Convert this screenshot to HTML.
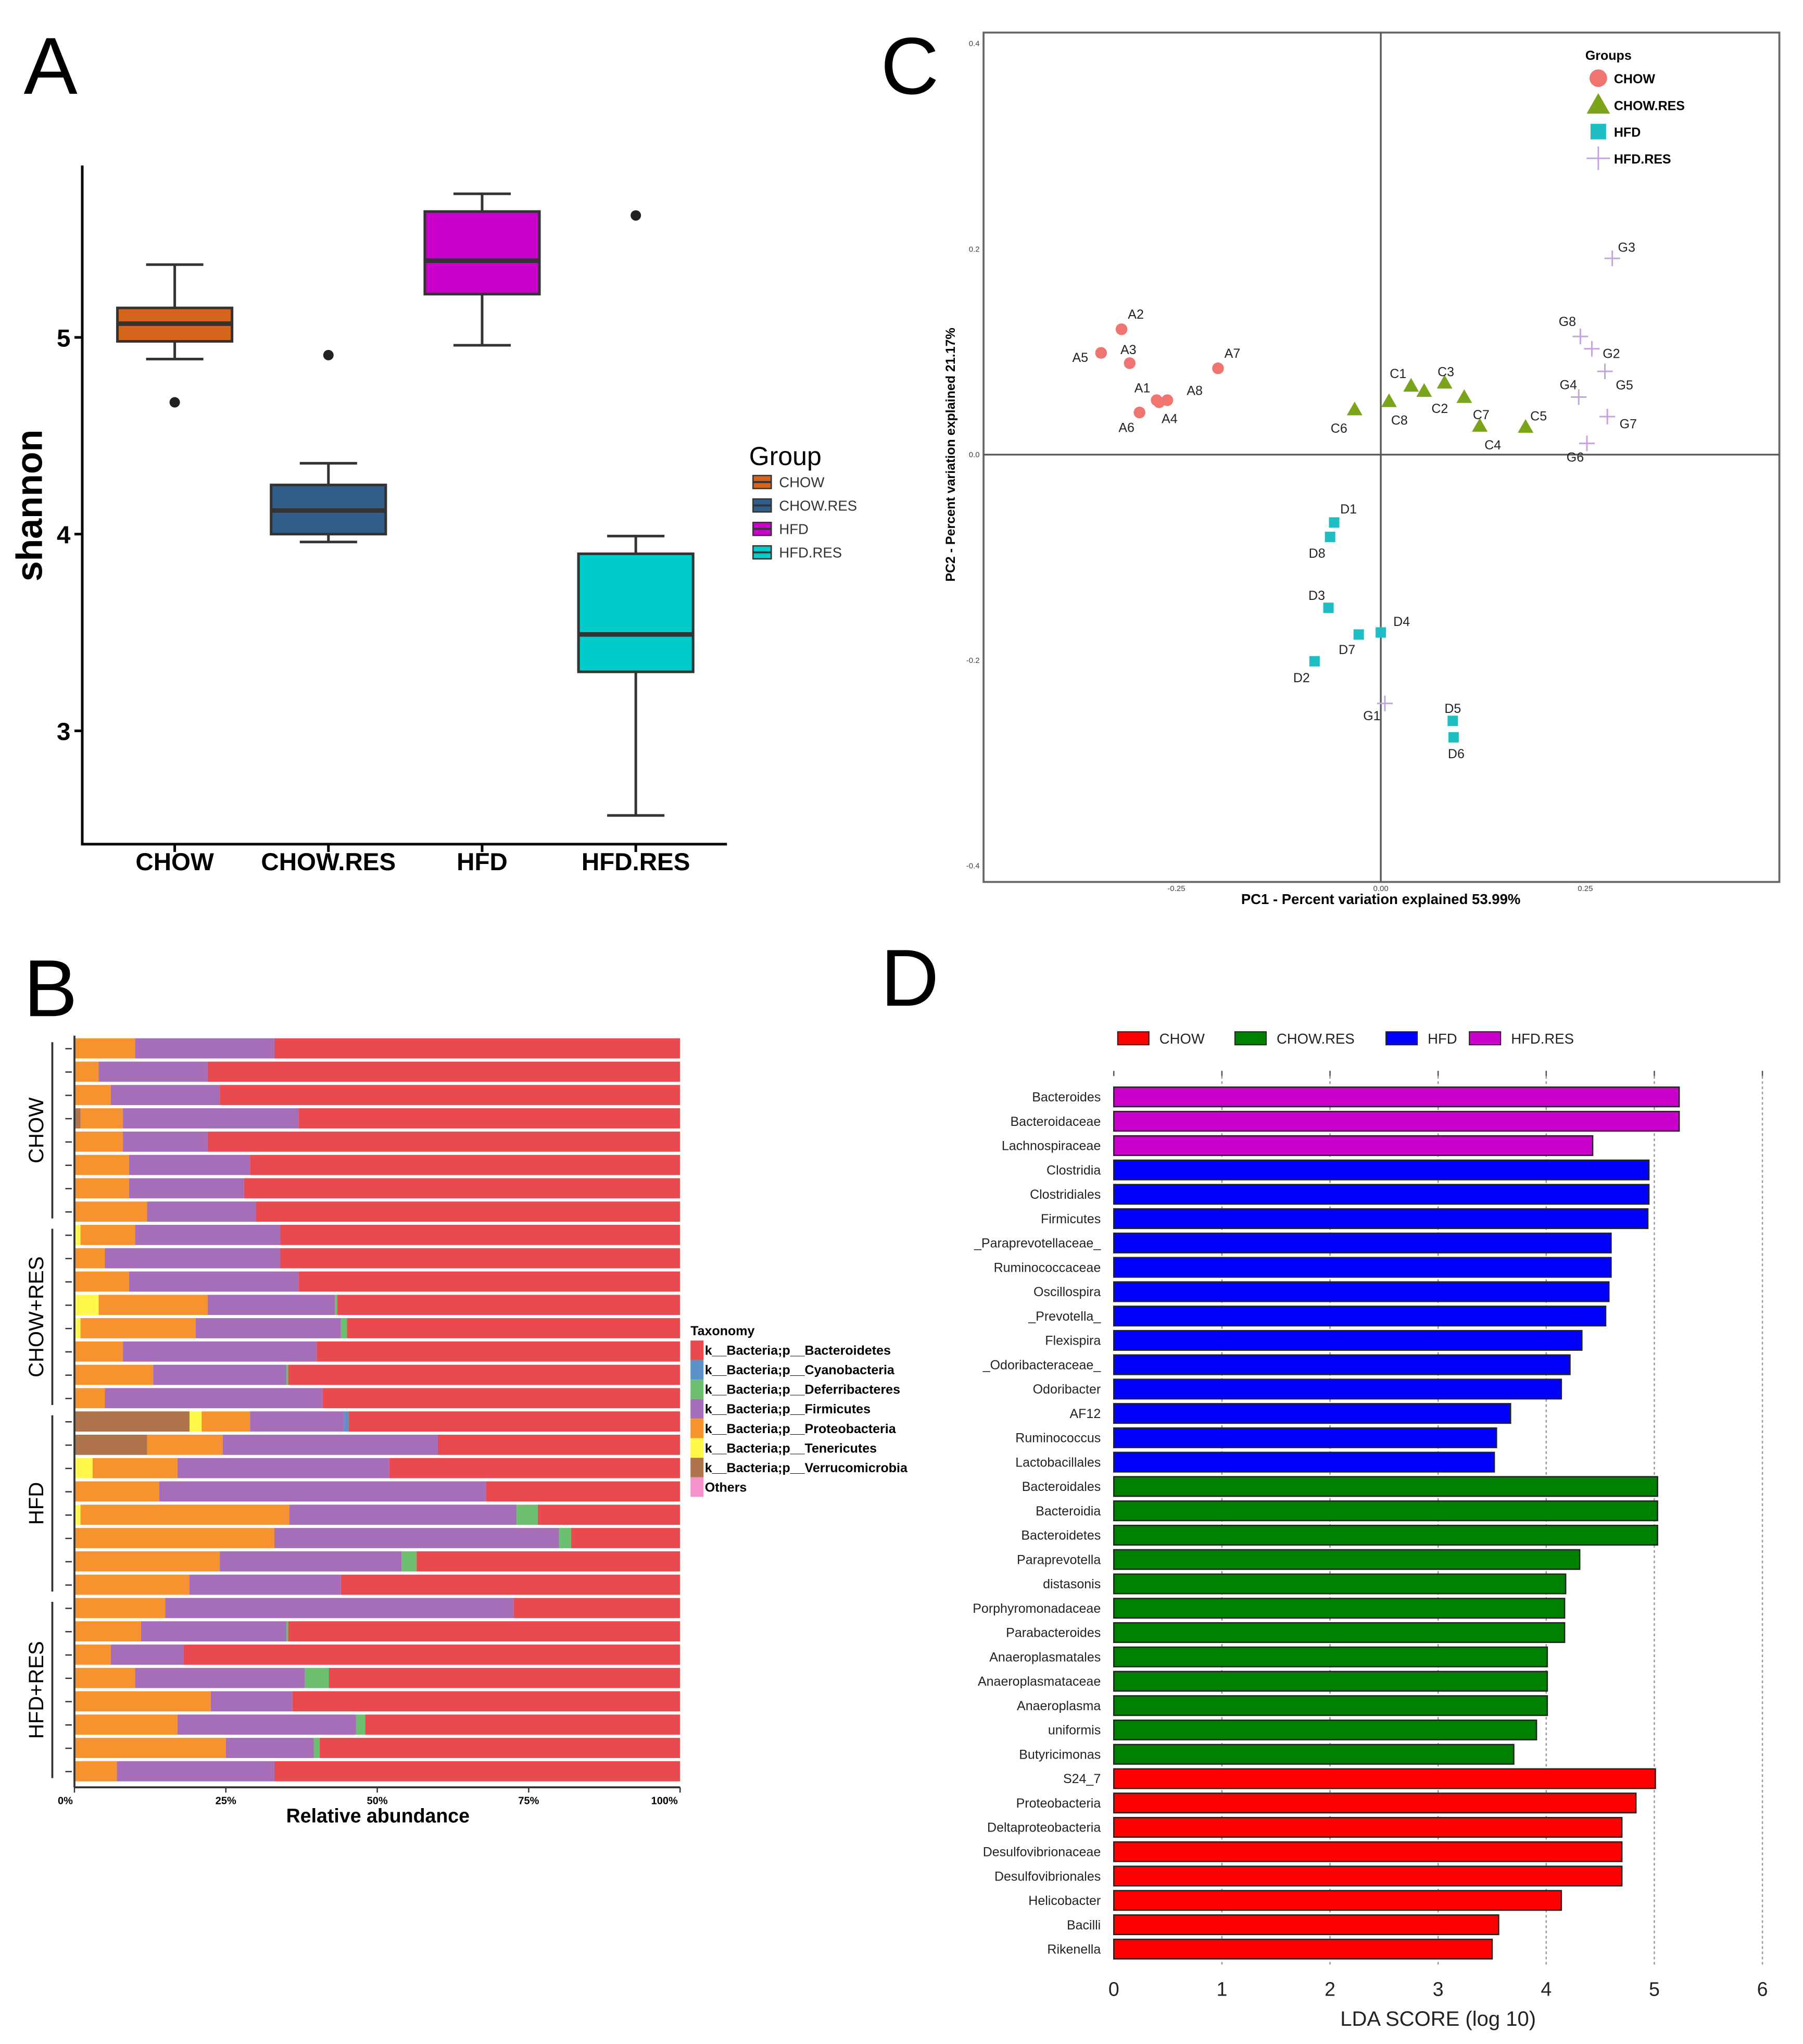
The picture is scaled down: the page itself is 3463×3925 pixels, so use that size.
<!DOCTYPE html>
<html><head><meta charset="utf-8">
<style>
html,body{margin:0;padding:0;background:#fff;}
svg{display:block;font-family:"Liberation Sans",Arial,sans-serif;}
</style></head>
<body>
<svg id="fig" xmlns="http://www.w3.org/2000/svg" width="3463" height="3925" viewBox="0 0 1384 1569">
<rect x="0" y="0" width="1384" height="1569" fill="#fff"/>
<g id="pa"></g>
<g id="pb"></g>
<g id="pc"></g>
<g id="pd"></g>
</svg>
<script>
// ---------- Panel A data ----------
const aGroups = ["CHOW","CHOW.RES","HFD","HFD.RES"];
const aWhiskLo = [4.89,3.96,4.96,2.57];
const aQ1 = [4.98,4.00,5.22,3.30];
const aMed = [5.07,4.12,5.39,3.49];
const aQ3 = [5.15,4.25,5.64,3.90];
const aWhiskHi = [5.37,4.36,5.73,3.99];
const aOutliers = [[4.67],[4.91],[],[5.62]];
const aTicks = [3,4,5];
const aColors = ["#d5641c","#2f5e8a","#cc00cc","#00cccc"];

// ---------- Panel B data ----------
const bPhyla = ["Verrucomicrobia","Tenericutes","Proteobacteria","Firmicutes","Deferribacteres","Cyanobacteria"];
const bVerr = [0,0,0,1,0,0,0,0, 0,0,0,0,0,0,0,0, 19,12,0,0,0,0,0,0, 0,0,0,0,0,0,0,0];
const bTen  = [0,0,0,0,0,0,0,0, 1,0,0,4,1,0,0,0, 2,0,3,0,1,0,0,0, 0,0,0,0,0,0,0,0];
const bProt = [10,4,6,7,8,9,9,12, 9,5,9,18,19,8,13,5, 8,12.5,14,14,34.5,33,24,19, 15,11,6,10,22.5,17,25,7];
const bFirm = [23,18,18,29,14,20,19,18, 24,29,28,21,24,32,22,36, 15.5,35.5,35,54,37.5,47,30,25, 57.5,24,12,28,13.5,29.5,14.5,26];
const bDef  = [0,0,0,0,0,0,0,0, 0,0,0,0.4,1,0,0.3,0, 0,0,0,0,3.5,2,2.5,0, 0,0.3,0,4,0,1.5,1,0];
const bCyan = [0,0,0,0,0,0,0,0, 0,0,0,0,0,0,0,0, 0.8,0,0,0,0,0,0,0, 0,0,0,0,0,0,0,0];
const bTickLabels = ["0%","25%","50%","75%","100%"];
const bTickVals = [0,25,50,75,100];
const bGroupNames = ["CHOW","CHOW+RES","HFD","HFD+RES"];
const bLegend = ["k__Bacteria;p__Bacteroidetes","k__Bacteria;p__Cyanobacteria","k__Bacteria;p__Deferribacteres","k__Bacteria;p__Firmicutes","k__Bacteria;p__Proteobacteria","k__Bacteria;p__Tenericutes","k__Bacteria;p__Verrucomicrobia","Others"];

// ---------- Panel C data ----------
const cLabels = ["A2","A3","A5","A7","A1","A8","A6","A4",
 "C6","C1","C8","C3","C2","C7","C4","C5",
 "G3","G8","G2","G5","G4","G7","G6","G1",
 "D1","D8","D3","D4","D7","D2","D5","D6"];
const cPC1 = [-0.317,-0.307,-0.342,-0.199,-0.274,-0.261,-0.295,-0.271,
 -0.032,0.037,0.010,0.078,0.053,0.102,0.121,0.177,
 0.283,0.244,0.258,0.274,0.242,0.277,0.252,0.005,
 -0.057,-0.062,-0.064,0.000,-0.027,-0.081,0.088,0.089];
const cPC2 = [0.122,0.089,0.099,0.084,0.053,0.053,0.041,0.051,
 0.044,0.067,0.052,0.070,0.062,0.056,0.028,0.027,
 0.191,0.115,0.103,0.081,0.056,0.037,0.011,-0.242,
 -0.066,-0.080,-0.149,-0.173,-0.175,-0.201,-0.259,-0.275];
const cGroup = ["CHOW","CHOW","CHOW","CHOW","CHOW","CHOW","CHOW","CHOW",
 "CHOW.RES","CHOW.RES","CHOW.RES","CHOW.RES","CHOW.RES","CHOW.RES","CHOW.RES","CHOW.RES",
 "HFD.RES","HFD.RES","HFD.RES","HFD.RES","HFD.RES","HFD.RES","HFD.RES","HFD.RES",
 "HFD","HFD","HFD","HFD","HFD","HFD","HFD","HFD"];
const cTicksX = [-0.25,0,0.25];
const cTickLabelsX = ["-0.25","0.00","0.25"];
const cTicksY = [-0.4,-0.2,0,0.2,0.4];
const cTickLabelsY = ["-0.4","-0.2","0.0","0.2","0.4"];
// label offsets (layout, px) relative to each point
const cLabDX = [11,-1,-16,11,-11,21,-10,8, -12,-10,8,1,12,13,10,10, 11,-10,15,15,-8,16,-9,-10, 11,-10,-9,16,-9,-10,0,2];
const cLabDY = [-12,-11,3,-12,-10,-8,11,12, 14,-10,14,-9,13,13,14,-9, -9,-12,3,10,-10,5,10,9, -11,12,-10,-9,11,12,-10,12];

// ---------- Panel D data ----------
const dTaxa = ["Bacteroides","Bacteroidaceae","Lachnospiraceae","Clostridia","Clostridiales","Firmicutes","_Paraprevotellaceae_","Ruminococcaceae","Oscillospira","_Prevotella_","Flexispira","_Odoribacteraceae_","Odoribacter","AF12","Ruminococcus","Lactobacillales","Bacteroidales","Bacteroidia","Bacteroidetes","Paraprevotella","distasonis","Porphyromonadaceae","Parabacteroides","Anaeroplasmatales","Anaeroplasmataceae","Anaeroplasma","uniformis","Butyricimonas","S24_7","Proteobacteria","Deltaproteobacteria","Desulfovibrionaceae","Desulfovibrionales","Helicobacter","Bacilli","Rikenella"];
const dScores = [5.23,5.23,4.43,4.95,4.95,4.94,4.60,4.60,4.58,4.55,4.33,4.22,4.14,3.67,3.54,3.52,5.03,5.03,5.03,4.31,4.18,4.17,4.17,4.01,4.01,4.01,3.91,3.70,5.01,4.83,4.70,4.70,4.70,4.14,3.56,3.50];
const dClass = ["HFD.RES","HFD.RES","HFD.RES","HFD","HFD","HFD","HFD","HFD","HFD","HFD","HFD","HFD","HFD","HFD","HFD","HFD","CHOW.RES","CHOW.RES","CHOW.RES","CHOW.RES","CHOW.RES","CHOW.RES","CHOW.RES","CHOW.RES","CHOW.RES","CHOW.RES","CHOW.RES","CHOW.RES","CHOW","CHOW","CHOW","CHOW","CHOW","CHOW","CHOW","CHOW"];
const dTicks = [0,1,2,3,4,5,6];
const dLegend = ["CHOW","CHOW.RES","HFD","HFD.RES"];

const NS="http://www.w3.org/2000/svg";
function mk(parent, tag, attrs, text){
  const e=document.createElementNS(NS,tag);
  for(const k in attrs) e.setAttribute(k,attrs[k]);
  if(text!==undefined) e.textContent=text;
  parent.appendChild(e); return e;
}
const fig=document.getElementById('fig');

[["A",18,72],["B",18,780],["C",676,72],["D",676,772]].forEach(p=>{
  const t=mk(fig,'text',{x:p[1],y:p[2],'font-size':62,fill:'#000'},p[0]);
  
  
});

// ===== Panel A =====
(function(){
  const g=document.getElementById('pa');
  const yA=v=>259-(v-5)*151;
  const xA=i=>134+i*118;
  const ax=mk(g,'path',{d:'M63,127 L63,648 L558,648',fill:'none',stroke:'#000','stroke-width':2});
   
  aTicks.forEach(v=>{
    mk(g,'line',{x1:57,x2:63,y1:yA(v),y2:yA(v),stroke:'#000','stroke-width':2});
    const t=mk(g,'text',{x:54,y:yA(v)+7,'font-size':19,'font-weight':'bold','text-anchor':'end'},String(v));
     
  });
  const yt=mk(g,'text',{x:40,y:388,'font-size':28,'font-weight':'bold','text-anchor':'middle',transform:'rotate(-90 40 388)'},'shannon');
  yt.setAttribute('x',40); yt.setAttribute('transform','rotate(-90 40 388) translate(0,0)');
   
  yt.setAttribute('transform','translate(-8,0) rotate(-90 40 388)');
  aGroups.forEach((name,i)=>{
    const cx=xA(i), w=88;
    mk(g,'line',{x1:cx,x2:cx,y1:yA(aWhiskHi[i]),y2:yA(aQ3[i]),stroke:'#333','stroke-width':2});
    mk(g,'line',{x1:cx,x2:cx,y1:yA(aQ1[i]),y2:yA(aWhiskLo[i]),stroke:'#333','stroke-width':2});
    mk(g,'line',{x1:cx-22,x2:cx+22,y1:yA(aWhiskHi[i]),y2:yA(aWhiskHi[i]),stroke:'#333','stroke-width':2});
    mk(g,'line',{x1:cx-22,x2:cx+22,y1:yA(aWhiskLo[i]),y2:yA(aWhiskLo[i]),stroke:'#333','stroke-width':2});
    const b=mk(g,'rect',{x:cx-w/2,y:yA(aQ3[i]),width:w,height:yA(aQ1[i])-yA(aQ3[i]),fill:aColors[i],stroke:'#333','stroke-width':2});
     
    mk(g,'line',{x1:cx-w/2,x2:cx+w/2,y1:yA(aMed[i]),y2:yA(aMed[i]),stroke:'#333','stroke-width':3.5});
    aOutliers[i].forEach(o=>{
      const c=mk(g,'circle',{cx:cx,cy:yA(o),r:4,fill:'#222'});
       
    });
    mk(g,'line',{x1:cx,x2:cx,y1:648,y2:654,stroke:'#000','stroke-width':2});
    const t=mk(g,'text',{x:cx,y:668,'font-size':19,'font-weight':'bold','text-anchor':'middle'},name);
     
  });
  const lt=mk(g,'text',{x:575,y:357,'font-size':20},'Group');
   
  aGroups.forEach((name,i)=>{
    const y=370+i*18;
    mk(g,'rect',{x:578,y:y-5,width:14,height:10,fill:aColors[i],stroke:'#333','stroke-width':1});
    mk(g,'line',{x1:578,x2:592,y1:y,y2:y,stroke:'#333','stroke-width':1.5});
    const t=mk(g,'text',{x:598,y:y+4,'font-size':11,fill:'#333'},name);
     
  });
})();

// ===== Panel B =====
(function(){
  const g=document.getElementById('pb');
  const xB=p=>57+p*4.65;
  const rowY=i=>797+i*17.9;
  const cols={Bacteroidetes:'#e84a4f',Cyanobacteria:'#5b93c8',Deferribacteres:'#6cbf6e',Firmicutes:'#a66db8',Proteobacteria:'#f7932e',Tenericutes:'#fff84a',Verrucomicrobia:'#b0744c',Others:'#f591cc'};
  bProt.forEach((_,i)=>{
    const segs=[[bVerr[i],'Verrucomicrobia'],[bTen[i],'Tenericutes'],[bProt[i],'Proteobacteria'],[bFirm[i],'Firmicutes'],[bCyan[i],'Cyanobacteria'],[bDef[i],'Deferribacteres']];
    let acc=0;
    segs.forEach(s=>{
      if(s[0]<=0) return;
      const r=mk(g,'rect',{x:xB(acc),y:rowY(i),width:xB(acc+s[0])-xB(acc),height:15.5,fill:cols[s[1]]});
       
      acc+=s[0];
    });
    const r=mk(g,'rect',{x:xB(acc),y:rowY(i),width:xB(100)-xB(acc),height:15.5,fill:cols.Bacteroidetes});
     
  });
  mk(g,'line',{x1:57,x2:57,y1:795,y2:1372,stroke:'#333','stroke-width':1.5});
  mk(g,'line',{x1:57,x2:522,y1:1372,y2:1372,stroke:'#333','stroke-width':1.5});
  bTickVals.forEach((v,i)=>{
    mk(g,'line',{x1:xB(v),x2:xB(v),y1:1372,y2:1376,stroke:'#333'});
    const t=mk(g,'text',{x:xB(v)-(i==0?7:0)-(i==4?12:0),y:1385,'font-size':8,'font-weight':'bold','text-anchor':'middle'},bTickLabels[i]);
     
  });
  const xt=mk(g,'text',{x:290,y:1399,'font-size':15,'font-weight':'bold','text-anchor':'middle'},'Relative abundance');
   
  bGroupNames.forEach((n,k)=>{
    const y0=rowY(k*8)+3, y1=rowY(k*8+7)+13, ym=(y0+y1)/2;
    mk(g,'line',{x1:40,x2:40,y1:y0,y2:y1,stroke:'#333','stroke-width':1.5});
    for(let j=0;j<8;j++) mk(g,'line',{x1:50,x2:55,y1:rowY(k*8+j)+8,y2:rowY(k*8+j)+8,stroke:'#333'});
    const t=mk(g,'text',{x:33,y:ym,'font-size':16,'text-anchor':'middle',transform:'rotate(-90 33 '+ym+')'},n);
     
  });
  const lt=mk(g,'text',{x:530,y:1025,'font-size':10,'font-weight':'bold'},'Taxonomy');
   
  const legCols=['#e84a4f','#5b93c8','#6cbf6e','#a66db8','#f7932e','#fff84a','#b0744c','#f591cc'];
  bLegend.forEach((n,i)=>{
    const y=1029+i*15;
    mk(g,'rect',{x:530,y:y,width:10,height:15,fill:legCols[i]});
    const t=mk(g,'text',{x:541,y:y+11,'font-size':10,'font-weight':'bold'},n);
     
  });
})();

// ===== Panel C =====
(function(){
  const g=document.getElementById('pc');
  const xC=v=>1060+v*628;
  const yC=v=>349-v*789;
  const fr=mk(g,'rect',{x:755,y:25,width:611,height:652,fill:'#fff',stroke:'#666','stroke-width':1.5});
   
  mk(g,'line',{x1:755,x2:1366,y1:yC(0),y2:yC(0),stroke:'#555','stroke-width':1.3});
  mk(g,'line',{x1:xC(0),x2:xC(0),y1:25,y2:677,stroke:'#555','stroke-width':1.3});
  cTicksX.forEach((v,i)=>{
    const t=mk(g,'text',{x:xC(v),y:684,'font-size':6,'text-anchor':'middle',fill:'#444'},cTickLabelsX[i]);
     
  });
  cTicksY.forEach((v,i)=>{
    const t=mk(g,'text',{x:752,y:yC(v)+2,'font-size':6,'text-anchor':'end',fill:'#444'},cTickLabelsY[i]);
     
  });
  const xt=mk(g,'text',{x:1060,y:694,'font-size':11,'font-weight':'bold','text-anchor':'middle'},'PC1 - Percent variation explained 53.99%');
   
  const yt=mk(g,'text',{x:733,y:349,'font-size':10,'font-weight':'bold','text-anchor':'middle',transform:'rotate(-90 733 349)'},'PC2 - Percent variation explained 21.17%');
   
  function marker(grp,x,y,s){
    let e;
    if(grp==='CHOW') e=mk(g,'circle',{cx:x,cy:y,r:4.5*s,fill:'#f07470'});
    else if(grp==='CHOW.RES') e=mk(g,'polygon',{points:`${x},${y-6*s} ${x+6*s},${y+4.5*s} ${x-6*s},${y+4.5*s}`,fill:'#7aa51a'});
    else if(grp==='HFD') e=mk(g,'rect',{x:x-4*s,y:y-4*s,width:8*s,height:8*s,fill:'#1dbfc4'});
    else { e=mk(g,'path',{d:`M${x-6*s},${y} L${x+6*s},${y} M${x},${y-6*s} L${x},${y+6*s}`,stroke:'#c5a3e0','stroke-width':1.2}); }
    return e;
  }
  cLabels.forEach((lab,i)=>{
    const x=xC(cPC1[i]), y=yC(cPC2[i]);
    const m=marker(cGroup[i],x,y,1);
     
    const t=mk(g,'text',{x:x+cLabDX[i],y:y+cLabDY[i]+4,'font-size':10,'text-anchor':'middle',fill:'#222'},lab);
     
  });
  const lt=mk(g,'text',{x:1217,y:46,'font-size':10,'font-weight':'bold'},'Groups');
   
  ["CHOW","CHOW.RES","HFD","HFD.RES"].forEach((n,i)=>{
    const y=60+i*20.5;
    marker(n,1227,y,1.5);
    const t=mk(g,'text',{x:1239,y:y+4,'font-size':10,'font-weight':'bold'},n);
     
  });
})();

// ===== Panel D =====
(function(){
  const g=document.getElementById('pd');
  const xD=v=>855+v*83;
  const rowY=i=>842+i*18.69;
  const cols={"CHOW":"#ff0000","CHOW.RES":"#008000","HFD":"#0000ff","HFD.RES":"#cc00cc"};
  dTicks.forEach(v=>{
    if(v>0) mk(g,'line',{x1:xD(v),x2:xD(v),y1:822,y2:1508,stroke:'#999','stroke-dasharray':'2,2','stroke-width':1});
    mk(g,'line',{x1:xD(v),x2:xD(v),y1:822,y2:826,stroke:'#555'});
    const t=mk(g,'text',{x:xD(v),y:1532,'font-size':15,'text-anchor':'middle',fill:'#222'},String(v));
     
  });
  dTaxa.forEach((n,i)=>{
    const y=rowY(i);
    const r=mk(g,'rect',{x:xD(0),y:y-7.5,width:xD(dScores[i])-xD(0),height:15,fill:cols[dClass[i]],stroke:'#222','stroke-width':1});
     
    const t=mk(g,'text',{x:845,y:y+3.5,'font-size':10,'text-anchor':'end',fill:'#222'},n);
     
  });
  const xt=mk(g,'text',{x:1104,y:1555,'font-size':16,'text-anchor':'middle',fill:'#222'},'LDA SCORE (log 10)');
   
  const lx=[858,948,1064,1128];
  dLegend.forEach((n,i)=>{
    mk(g,'rect',{x:lx[i],y:792,width:24,height:10,fill:cols[n],stroke:'#222','stroke-width':0.8});
    const t=mk(g,'text',{x:lx[i]+32,y:801,'font-size':11,fill:'#222'},n);
     
  });
})();
</script>
</body></html>
